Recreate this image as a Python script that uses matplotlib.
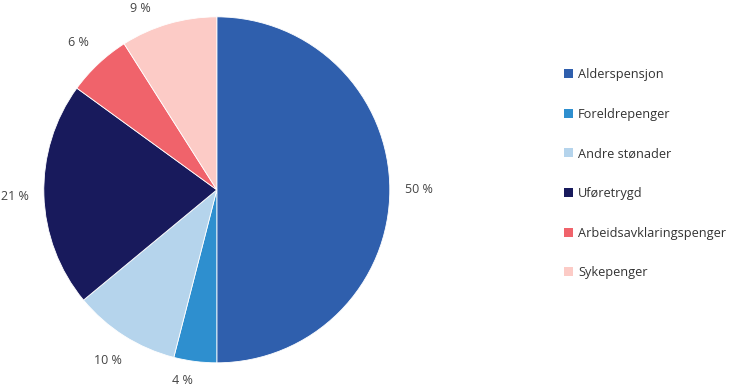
import matplotlib
matplotlib.use("Agg")
import matplotlib.pyplot as plt
from matplotlib.patches import Patch
import numpy as np

plt.rcParams['font.family'] = ['Open Sans', 'DejaVu Sans']

categories = ['Alderspensjon', 'Foreldrepenger', 'Andre stønader',
              'Uføretrygd', 'Arbeidsavklaringspenger', 'Sykepenger']
shares = [50, 4, 10, 21, 6, 9]
colors = ['#2f5fad', '#2e8fcf', '#b5d4ec', '#181a5c', '#f0636b', '#fccbc6']

fig = plt.figure(figsize=(7.30, 3.89), dpi=100)
ax = fig.add_axes([0.297 - 0.237, 0.512 - 0.4447, 0.474, 0.8894])

wedges, texts = ax.pie(shares, colors=colors, startangle=90, counterclock=False,
                       wedgeprops=dict(edgecolor='white', linewidth=0.6))
ax.set_aspect('equal')
ax.set_xlim(-1, 1)
ax.set_ylim(-1, 1)

# percent labels outside the slices, kept inside the figure
for w, v in zip(wedges, shares):
    mid = np.deg2rad((w.theta1 + w.theta2) / 2)
    r = 1.17
    x, y = r * np.cos(mid), r * np.sin(mid)
    if y > 1.06:
        x, y = x * 1.35, 1.05
    elif y < -1.06:
        x, y = x * 1.35, -1.10
    ax.text(x, y, f"{v} %", ha='center', va='center', fontsize=9,
            color='#444444', clip_on=False)

handles = [Patch(facecolor=c, edgecolor='none') for c in colors]
leg = fig.legend(handles, categories, loc='upper left', bbox_to_anchor=(0.757, 0.855),
                 frameon=False, fontsize=9.2, labelspacing=2.09, handlelength=0.7,
                 handleheight=0.7, handletextpad=0.4)
for t in leg.get_texts():
    t.set_color('#333333')

fig.savefig('out.png', dpi=100)
